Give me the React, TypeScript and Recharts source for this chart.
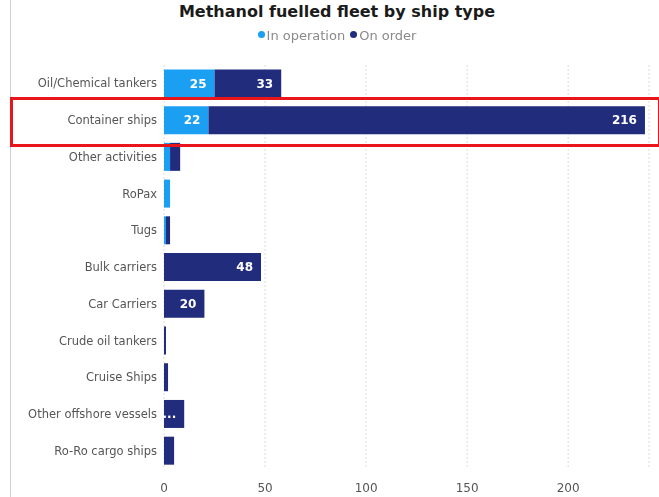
import { BarChart, Bar, XAxis, YAxis, CartesianGrid, LabelList } from "recharts";

const categories = [
  "Oil/Chemical tankers",
  "Container ships",
  "Other activities",
  "RoPax",
  "Tugs",
  "Bulk carriers",
  "Car Carriers",
  "Crude oil tankers",
  "Cruise Ships",
  "Other offshore vessels",
  "Ro-Ro cargo ships",
];
const inOperation = [25, 22, 3, 3, 1, 0, 0, 0, 0, 0, 0];
const onOrder = [33, 216, 5, 0, 2, 48, 20, 1, 2, 10, 5];
const xTicks = [0, 50, 100, 150, 200];
const seriesNames = ['In operation', 'On order'];

const LIGHT = '#1a9ff2';
const DARK = '#212d7c';
const FONT = '"DejaVu Sans", Verdana, sans-serif';

const data = categories.map((name, i) => ({ name, inOperation: inOperation[i], onOrder: onOrder[i] }));

// white value inside the end of each segment; "..." when it doesn't fit
const renderLabel = (props: any) => {
  const { x, y, width, height, value } = props;
  if (!value || width < 15) return null;
  const text = width >= 30 ? String(value) : '...';
  return (
    <text x={x + width - 8} y={y + height / 2} dy="0.35em" textAnchor="end"
      fill="#fff" fontSize={12} fontWeight={700} fontFamily={FONT}>
      {text}
    </text>
  );
};

const Dot = ({ color }: { color: string }) => (
  <span style={{ display: 'inline-block', width: 7, height: 7, borderRadius: '50%', background: color, marginRight: 2, verticalAlign: 'middle', position: 'relative', top: -2 }} />
);

export default function App() {
  return (
    <div style={{ position: 'fixed', top: 0, left: 0, width: 659, height: 497, background: '#fff', fontFamily: FONT }}>
      <div style={{ position: 'absolute', left: 10, top: 0, bottom: 0, borderLeft: '1px solid #cfcfcf' }} />
      <div style={{ position: 'absolute', top: 2, left: 0, width: 674, textAlign: 'center', fontSize: 16, fontWeight: 700, color: '#1b1b1b' }}>
        Methanol fuelled fleet by ship type
      </div>
      <div style={{ position: 'absolute', top: 28, left: 0, width: 674, display: 'flex', justifyContent: 'center', gap: 5, fontSize: 13, color: '#8a8a8a' }}>
        <span><Dot color={LIGHT} />{seriesNames[0]}</span>
        <span><Dot color={DARK} />{seriesNames[1]}</span>
      </div>
      <BarChart
        width={659}
        height={497}
        data={data}
        layout="vertical"
        margin={{ top: 65, right: 10, bottom: 0, left: 0 }}
        barCategoryGap="12%"
        style={{ position: 'absolute', top: 0, left: 0 }}
      >
        <CartesianGrid horizontal={false} stroke="#dcdcdc" strokeDasharray="2 2" />
        <XAxis type="number" domain={[0, 240]} ticks={xTicks} axisLine={false} tickLine={false}
          tickSize={0} tickMargin={14} height={28}
          tick={{ fill: '#555', fontSize: 12, fontFamily: FONT }} />
        <YAxis type="category" dataKey="name" width={164} axisLine={false} tickLine={false}
          tickSize={0} tickMargin={7} interval={0}
          tick={{ fill: '#555', fontSize: 11.5, fontFamily: FONT }} />
        <Bar dataKey="inOperation" name={seriesNames[0]} stackId="a" fill={LIGHT} isAnimationActive={false}>
          <LabelList dataKey="inOperation" content={renderLabel} />
        </Bar>
        <Bar dataKey="onOrder" name={seriesNames[1]} stackId="a" fill={DARK} isAnimationActive={false}>
          <LabelList dataKey="onOrder" content={renderLabel} />
        </Bar>
      </BarChart>
      <div style={{ position: 'absolute', left: 10, top: 97, width: 645, height: 44, border: '3px solid #e8151b' }} />
    </div>
  );
}
